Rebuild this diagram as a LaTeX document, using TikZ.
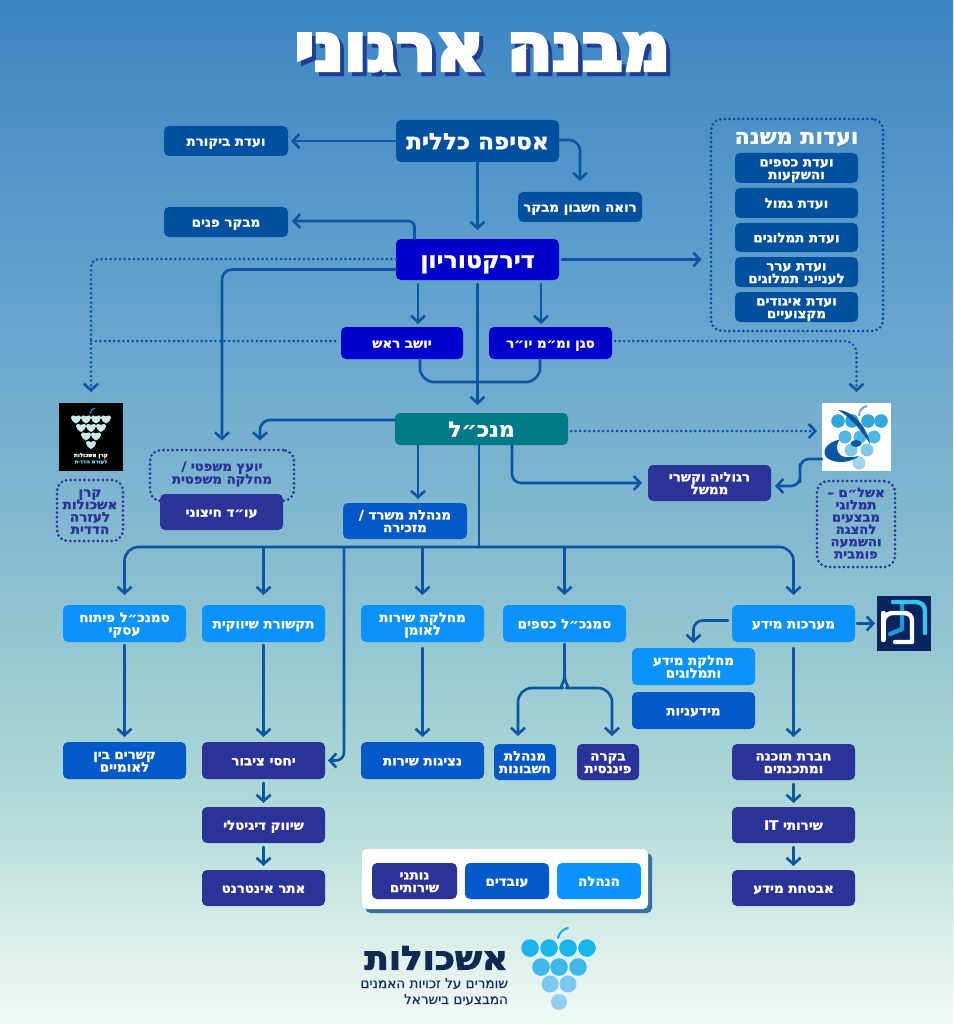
\documentclass[tikz,border=0pt]{standalone}
\usepackage{fontspec}
\usetikzlibrary{arrows.meta}
\TeXXeTstate=1
\newfontfamily\hefont[Script=Hebrew,FakeBold=1.4,FakeStretch=1.03]{DejaVu Sans Bold}
\newfontfamily\hetitle[Script=Hebrew,FakeBold=6]{DejaVu Sans Bold}
\newfontfamily\hebrand[Script=Hebrew,FakeBold=3,FakeStretch=1.08]{DejaVu Sans Bold}
\newfontfamily\hereg[Script=Hebrew,FakeBold=0.4]{DejaVu Sans}
\newcommand{\he}[1]{\raisebox{0pt}[0.73em][0pt]{\beginR #1\endR}}
\newcommand{\fs}[2]{\fontsize{#1}{#2}\selectfont}
\definecolor{cline}{HTML}{0B55A3}
\definecolor{cgov}{HTML}{0050A0}
\definecolor{cboard}{HTML}{0000CC}
\definecolor{cteal}{HTML}{007A87}
\definecolor{cdark}{HTML}{2B3399}
\definecolor{cmid}{HTML}{0558C8}
\definecolor{clight}{HTML}{0A92FF}
\definecolor{cnavy}{HTML}{0F2A50}
\definecolor{ctitle}{HTML}{1F3F96}
\definecolor{cheart}{HTML}{CDE8E8}
\tikzset{
  conn/.style={draw=cline,line width=2.6pt,line cap=round,line join=round},
  arr/.style={conn,-{Straight Barb[length=6.5pt,width=14pt,line width=2.6pt]}},
  dots/.style={draw=cline,line width=3pt,line cap=round,dash pattern=on 0pt off 4.6pt},
  darr/.style={dots,-{Straight Barb[length=6.5pt,width=14pt,line width=2.6pt]}},
  dotbox/.style={draw=cdark,line width=3pt,line cap=round,dash pattern=on 0pt off 4.6pt,rounded corners=11pt},
  boxn/.style={rounded corners=5pt,inner sep=0pt,outer sep=0pt,text=white,align=center,font=\hefont\fs{13}{12.6}},
  plain/.style={inner sep=0pt,outer sep=0pt,align=center},
}
% name, x1, y1, x2, y2, colour + extra, text
\newcommand{\bx}[7]{\node[boxn,fill=#6,minimum width={(#4-#2)*1pt},minimum height={(#5-#3)*1pt}] (#1) at ({(#2+#4)/2},{(#3+#5)/2}) {#7};}
\begin{document}
\begin{tikzpicture}[x=1pt,y=-1pt]
\useasboundingbox (0,0) rectangle (953,1024);
% background
\definecolor{g0}{HTML}{3B86C4}\definecolor{g1}{HTML}{6AA6CF}\definecolor{g2}{HTML}{8ABFD0}\definecolor{g3}{HTML}{AFD9D6}\definecolor{g4}{HTML}{D3EBE6}\definecolor{g5}{HTML}{F2F9F6}
\fill[top color=g0,bottom color=g1] (0,0) rectangle (953,341);
\fill[top color=g1,bottom color=g2] (0,340) rectangle (953,581);
\fill[top color=g2,bottom color=g3] (0,580) rectangle (953,801);
\fill[top color=g3,bottom color=g4] (0,800) rectangle (953,921);
\fill[top color=g4,bottom color=g5] (0,920) rectangle (953,1024);
% title
\node[plain,text=ctitle,font=\hetitle\fs{66}{66}] at (486.5,50) {\he{מבנה ארגוני}};
\node[plain,text=white,font=\hetitle\fs{66}{66}] (title) at (482.5,46) {\he{מבנה ארגוני}};
% governance
\bx{audit}{164}{126}{288}{156}{cgov}{\he{ועדת ביקורת}}
\bx{assembly}{396}{120}{559}{162}{cgov}{\fs{22.5}{24}\he{אסיפה כללית}}
\bx{roeh}{518}{192}{642}{222}{cgov}{\he{רואה חשבון מבקר}}
\bx{internal}{164}{207}{288}{237}{cgov}{\he{מבקר פנים}}
\bx{board}{396}{239}{559}{280}{cboard}{\fs{23}{24}\he{דירקטוריון}}
% committees
\node[dotbox,draw=cgov,minimum width=172pt,minimum height=212pt,inner sep=0pt] (comm) at (797,225) {};
\node[plain,text=white,font=\hefont\fs{21.5}{22}] (commt) at (796.5,136) {\he{ועדות משנה}};
\bx{c1}{735}{153}{858}{183}{cgov}{\he{ועדת כספים}\\\he{והשקעות}}
\bx{c2}{735}{188}{858}{218}{cgov}{\he{ועדת גמול}}
\bx{c3}{735}{223}{858}{252}{cgov}{\he{ועדת תמלוגים}}
\bx{c4}{735}{257}{858}{287}{cgov}{\he{ועדת ערר}\\\he{לענייני תמלוגים}}
\bx{c5}{735}{292}{858}{322}{cgov}{\he{ועדת איגודים}\\\he{מקצועיים}}
% second level
\bx{chair}{341}{327}{463}{359}{cboard}{\he{יושב ראש}}
\bx{vice}{489}{327}{612}{359}{cboard}{\he{סגן ומ״מ יו״ר}}
\bx{ceo}{395}{413}{568}{445}{cteal}{\fs{21}{22}\he{מנכ״ל}}
% legal
\node[dotbox,minimum width=144pt,minimum height=51pt,inner sep=0pt] (legalbox) at (222,475.5) {};
\node[plain,text=cdark,font=\hefont\fs{12.8}{12.8}] (legal) at (222,472.5) {\he{יועץ משפטי /}\\\he{מחלקה משפטית}};
\bx{lawyer}{160}{494}{283}{530}{cdark}{\he{עו״ד חיצוני}}
\bx{office}{343}{503}{467}{539}{cmid}{\he{מנהלת משרד /}\\\he{מזכירה}}
\bx{reg}{648}{465}{771}{501}{cdark}{\he{רגוליה וקשרי}\\\he{ממשל}}
% keren logo
\node[fill=black,minimum width=64pt,minimum height=68pt,inner sep=0pt,outer sep=0pt] (kerenlogo) at (91,437) {};
\foreach \px/\py in {76/419,86/419,96/419,106/419,81/427.5,91/427.5,101/427.5,86/436,96/436,91/444.5}{
  \fill[cheart] (\px,\py+4.6) .. controls (\px-2.6,\py+3.2) and (\px-5,\py+1.2) .. (\px-5,\py-1.2) .. controls (\px-5,\py-4) and (\px-1.2,\py-4.4) .. (\px,\py-2.6) .. controls (\px+1.2,\py-4.4) and (\px+5,\py-4) .. (\px+5,\py-1.2) .. controls (\px+5,\py+1.2) and (\px+2.6,\py+3.2) .. (\px,\py+4.6) -- cycle;}
\draw[cline!60!cyan,line width=1.2pt] (90,413.5) .. controls (90.5,410.5) and (92.5,408.5) .. (95,408);
\node[plain,text=white,font=\hefont\fs{5.4}{6}] (kerent1) at (91,455) {\he{קרן אשכולות}};
\node[plain,text=cyan!50!white,font=\hefont\fs{5.2}{6}] (kerent2) at (91,461.5) {\he{לעזרה הדדית}};
\node[dotbox,minimum width=66pt,minimum height=61pt,inner sep=0pt] (kerenbox) at (90,510.5) {};
\node[plain,text=cdark,font=\hefont\fs{13.2}{12.4}] (kerent) at (90,510.5) {\he{קרן}\\\he{אשכולות}\\\he{לעזרה}\\\he{הדדית}};
% ashlam logo
\node[fill=white,minimum width=69pt,minimum height=68pt,inner sep=0pt,outer sep=0pt] (ashlogo) at (856.5,437) {};
\fill[color={rgb,255:red,160;green,212;blue,242}] (859,463) circle[radius=6.5];
\fill[cline] (840,439.5) .. controls (826,442) and (821,452) .. (827,458) .. controls (837,465) and (852,462) .. (859,456) .. controls (850,458) and (840,458) .. (838,452) .. controls (836,447) and (837,443) .. (840,439.5) -- cycle;
\foreach \px/\py in {851/450,867/450}{\fill[color={rgb,255:red,128;green,200;blue,238}] (\px,\py) circle[radius=6.5];}
\foreach \px/\py in {845/437,860/437,874/437}{\fill[color={rgb,255:red,80;green,181;blue,226}] (\px,\py) circle[radius=6.5];}
\foreach \px/\py in {838/421,852/421,868/421,881/421}{\fill[color={rgb,255:red,47;green,168;blue,218}] (\px,\py) circle[radius=6.8];}
\fill[cline] (838,410) .. controls (855,411) and (868,430) .. (870,444) .. controls (862,431) and (850,417) .. (838,410) -- cycle;
\fill[cline] (856,443.5) ellipse[x radius=5.5,y radius=3.5];
\draw[color={rgb,255:red,100;green,175;blue,210},line width=2pt] (859,416) .. controls (859,411) and (862,407) .. (867,406);
\node[dotbox,minimum width=78pt,minimum height=86pt,inner sep=0pt] (ashbox) at (856,524) {};
\node[plain,text=cdark,font=\hefont\fs{12.8}{12.3}] (asht) at (856,523) {\he{אשל״ם –}\\\he{תמלוגי}\\\he{מבצעים}\\\he{להצגה}\\\he{והשמעה}\\\he{פומבית}};
% departments
\bx{biz}{63}{605}{186}{642}{clight}{\he{סמנכ״ל פיתוח}\\\he{עסקי}}
\bx{mkt}{202}{605}{325}{642}{clight}{\he{תקשורת שיווקית}}
\bx{cs}{361}{605}{484}{642}{clight}{\he{מחלקת שירות}\\\he{לאומן}}
\bx{fin}{503}{605}{626}{642}{clight}{\he{סמנכ״ל כספים}}
\bx{it}{732}{605}{855}{642}{clight}{\he{מערכות מידע}}
% IT logo
\node[fill={rgb,255:red,10;green,36;blue,96},minimum width=54pt,minimum height=55pt,inner sep=0pt,outer sep=0pt] (itlogo) at (904,623.5) {};
\draw[color={rgb,255:red,30;green,155;blue,215},line width=4.4pt,line cap=round,line join=round] (902,604) -- (902,629) -- (890,634);
\draw[color={rgb,255:red,51;green,197;blue,240},line width=4.4pt,line cap=round,line join=round] (893,602) -- (915,602) .. controls (921,602) and (925,605) .. (925,611) -- (925,633);
\draw[white,line width=4.4pt,line cap=round,line join=round] (883.3,640) -- (883.3,613);
\draw[white,line width=4.4pt,line cap=round,line join=round] (883.3,621) .. controls (885,615) and (889,613) .. (893,613) -- (904,613) .. controls (909,613) and (912,616) .. (912,621) -- (912,642) -- (895,642);
% lower rows
\bx{infod}{632}{648}{755}{685}{clight}{\he{מחלקת מידע}\\\he{ותמלוגים}}
\bx{infos}{632}{692}{755}{729}{cmid}{\he{מידעניות}}
\bx{intl}{63}{742}{186}{779}{cmid}{\he{קשרים בין}\\\he{לאומיים}}
\bx{pr}{202}{742}{325}{779}{cdark}{\he{יחסי ציבור}}
\bx{srv}{361}{742}{484}{779}{cmid}{\he{נציגות שירות}}
\bx{acc}{494}{744}{556}{780}{cmid}{\he{מנהלת}\\\he{חשבונות}}
\bx{ctrl}{577}{744}{639}{780}{cdark}{\he{בקרה}\\\he{פיננסית}}
\bx{soft}{732}{744}{855}{780}{cdark}{\he{חברת תוכנה}\\\he{ומתכנתים}}
\bx{digi}{202}{807}{325}{843}{cdark}{\he{שיווק דיגיטלי}}
\bx{web}{202}{870}{325}{906}{cdark}{\he{אתר אינטרנט}}
\bx{itsv}{732}{807}{855}{843}{cdark}{\he{שירותי \beginL IT\endL}}
\bx{sec}{732}{870}{855}{906}{cdark}{\he{אבטחת מידע}}
% legend
\fill[color={rgb,255:red,58;green,110;blue,165},rounded corners=5pt] (365.5,853) rectangle (652,913);
\fill[white,rounded corners=5pt] (362,849) rectangle (648,909);
\bx{lgA}{372}{863}{457}{899}{cdark}{\he{נותני}\\\he{שירותים}}
\bx{lgB}{465}{863}{549}{899}{cmid}{\he{עובדים}}
\bx{lgC}{557}{863}{641}{899}{clight}{\he{הנהלה}}
% footer logo
\foreach \px/\py in {559/1002}{\fill[color={rgb,255:red,144;green,208;blue,242}] (\px,\py) circle[radius=8];}
\foreach \px/\py in {550/984,568/984}{\fill[color={rgb,255:red,124;green,200;blue,240}] (\px,\py) circle[radius=8.5];}
\foreach \px/\py in {541/967,559/967,578/967}{\fill[color={rgb,255:red,61;green,184;blue,232}] (\px,\py) circle[radius=8.8];}
\foreach \px/\py in {530/948,549/948,568/948,587/948}{\fill[color={rgb,255:red,26;green,181;blue,234}] (\px,\py) circle[radius=8.8];}
\draw[color={rgb,255:red,26;green,181;blue,234},line width=2.2pt,line cap=round] (558,938) .. controls (559,933) and (563,929) .. (568,928);
\node[plain,text=cnavy,anchor=east,font=\hebrand\fs{33}{33}] (brand) at (508,957.5) {\he{אשכולות}};
\node[plain,text=cnavy,anchor=east,font=\hereg\fs{13.6}{14}] (brand1) at (508,983) {\he{שומרים על זכויות האמנים}};
\node[plain,text=cnavy,anchor=east,font=\hereg\fs{13.6}{14}] (brand2) at (508,999) {\he{המבצעים בישראל}};
% connectors
\draw[arr,shorten >=3pt] (assembly.west |- assembly.center) -- (audit.east);
\draw[arr,rounded corners=11pt,shorten >=11pt] ([yshift=1pt]assembly.east) -| (roeh.north);
\draw[arr,shorten >=9pt] (assembly.south) -- (board.north);
\draw[arr,rounded corners=6pt,shorten >=4pt] ([xshift=-63pt]board.north) |- ([yshift=1pt]internal.east);
\draw[arr,shorten <=3pt,shorten >=8pt] (board.east) -- (board.east -| comm.west);
\draw[arr,shorten <=4pt,shorten >=3pt] ([xshift=-59.5pt]board.south) -- ([xshift=16pt]chair.north);
\draw[arr,shorten <=4pt,shorten >=3pt] ([xshift=63.5pt]board.south) -- ([xshift=-9.5pt]vice.north);
\draw[arr,shorten <=4pt,shorten >=8pt] (board.south) -- (board.south |- ceo.north);
\draw[conn,rounded corners=14pt] ([xshift=18pt]chair.south) -- ([xshift=18pt,yshift=-23pt]chair.south) -- ([yshift=-23pt,xshift=-10.5pt]vice.south) -- ([xshift=-10.5pt]vice.south);
\draw[arr,rounded corners=10pt,shorten >=8pt] ([yshift=-10pt]board.west) -| (legalbox.north);
\draw[arr,rounded corners=10pt,shorten >=8pt] ([yshift=9pt]ceo.west) -| ([xshift=38pt]legalbox.north);
\draw[darr,rounded corners=8pt,shorten >=11pt] ([yshift=0.5pt]board.west) -| (kerenlogo.north);
\draw[dots,shorten <=6pt] ([yshift=2pt]chair.west) -- ([yshift=2pt]chair.west -| kerenlogo.north);
\draw[darr,rounded corners=12pt,shorten <=3pt,shorten >=11pt] ([yshift=2pt]vice.east) -| (ashlogo.north);
\draw[darr,shorten <=3pt,shorten >=5pt] ([yshift=-2pt]ceo.east) -- ([yshift=-2pt]ceo.east -| ashlogo.west);
\draw[arr,shorten >=4pt] ([xshift=13pt]office.north |- ceo.south) -- ([xshift=13pt]office.north);
\draw[arr,rounded corners=9pt,shorten >=6pt] ([xshift=30.5pt]ceo.south) |- (reg.west);
\coordinate (ashbend) at (800,473);
\draw[arr,rounded corners=9pt,shorten >=4pt] ([yshift=-22pt]ashlogo.west) -| (ashbend) |- ([yshift=-3pt]reg.east);
\coordinate (bus) at (479,547);
\coordinate (busPR) at (344,547);
\draw[conn] ([xshift=-2.5pt]ceo.south) -- (bus);
\draw[arr,rounded corners=14pt,shorten >=10pt] (bus) -| (biz.north);
\draw[arr,rounded corners=14pt,shorten >=10pt] (bus) -| (it.north);
\draw[arr,shorten >=10pt] (bus -| mkt.north) -- (mkt.north);
\draw[arr,shorten >=10pt] (bus -| cs.north) -- (cs.north);
\draw[arr,shorten >=10pt] (bus -| fin.north) -- (fin.north);
\draw[arr,rounded corners=8pt,shorten >=3pt] (busPR) |- (pr.east);
\draw[arr,shorten <=3pt,shorten >=5pt] (biz.south) -- (intl.north);
\draw[arr,shorten <=3pt,shorten >=5pt] (mkt.south) -- (pr.north);
\draw[arr,shorten <=6pt,shorten >=5pt] (cs.south) -- (srv.north);
\coordinate (forkJ) at (564.5,675);
\coordinate (forkL) at (549,688);
\coordinate (forkR) at (580,688);
\draw[conn,shorten <=2pt] (fin.south) -- (forkJ);
\draw[arr,rounded corners=14pt,shorten >=8pt] (forkJ) .. controls (564.5,684) and (558,688) .. (forkL) -| ([xshift=-7pt]acc.north);
\draw[arr,rounded corners=14pt,shorten >=8pt] (forkJ) .. controls (564.5,684) and (571,688) .. (forkR) -| ([xshift=4pt]ctrl.north);
\draw[arr,rounded corners=9pt,shorten <=4pt,shorten >=5pt] ([yshift=3pt]it.west) -| (infod.north);
\draw[arr,shorten <=2pt,shorten >=2pt] (it.east) -- (it.east -| itlogo.west);
\draw[arr,shorten <=6pt,shorten >=7pt] (it.south) -- (soft.north);
\draw[arr,shorten <=4pt,shorten >=4pt] (soft.south) -- (itsv.north);
\draw[arr,shorten <=4pt,shorten >=4pt] (itsv.south) -- (sec.north);
\draw[arr,shorten <=4pt,shorten >=4pt] (pr.south) -- (digi.north);
\draw[arr,shorten <=4pt,shorten >=4pt] (digi.south) -- (web.north);
\end{tikzpicture}
\end{document}
